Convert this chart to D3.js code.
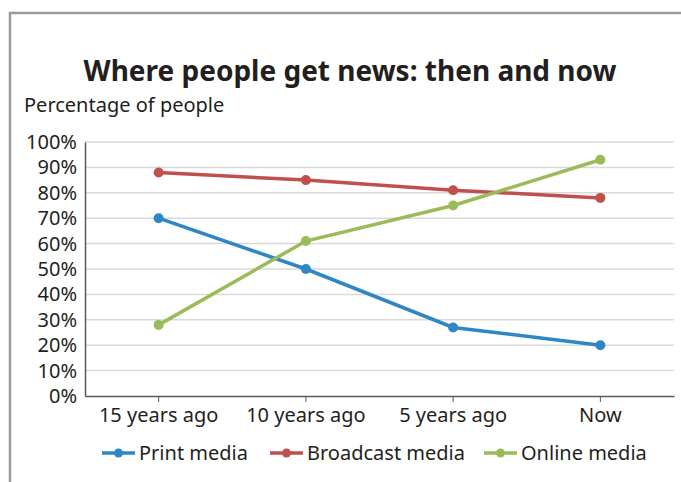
<!DOCTYPE html>
<html lang="en">
  <head>
    <meta charset="utf-8">
    <title>Where people get news</title>
    <script src="https://cdn.jsdelivr.net/npm/d3@7"></script>
    <style>
      body { margin: 0; background: #fff; }
      text { font-family: "Noto Sans", "Open Sans", sans-serif; fill: #231f20; }
      .axis path, .axis line { stroke: #595959; }
      .grid line { stroke: #d9d9d9; stroke-width: 1.5; }
    </style>
  </head>
  <body>
    <script>
    //Data
    var categories = ["15 years ago", "10 years ago", "5 years ago", "Now"];
    var seriesNames = ["Print media", "Broadcast media", "Online media"];
    var printValues = [70, 50, 27, 20];
    var broadcastValues = [88, 85, 81, 78];
    var onlineValues = [28, 61, 75, 93];
    var yTicks = [0, 10, 20, 30, 40, 50, 60, 70, 80, 90, 100];
    var colors = ["#2e86c4", "#c0504d", "#9bbb59"];

    var series = [printValues, broadcastValues, onlineValues].map(function(v, i) {
      return { name: seriesNames[i], values: v, color: colors[i] };
    });

    var w = 681, h = 482;
    var plotLeft = 85, plotRight = 674, plotTop = 142, plotBottom = 396;

    var svg = d3.select("body").append("svg")
      .attr("width", w).attr("height", h);

    //Frame
    svg.append("path")
      .attr("d", "M10," + h + "V13H" + w)
      .attr("fill", "none")
      .attr("stroke", "#9a9a9a")
      .attr("stroke-width", 2.5);

    //Scales
    var xScale = d3.scaleBand().domain(categories).range([plotLeft, plotRight]);
    var yScale = d3.scaleLinear().domain([0, 100]).range([plotBottom, plotTop]);
    var xPos = function(c) { return xScale(c) + xScale.bandwidth() / 2; };

    //Gridlines
    svg.append("g").attr("class", "grid")
      .selectAll("line").data(yTicks.slice(1)).enter().append("line")
      .attr("x1", plotLeft).attr("x2", plotRight)
      .attr("y1", function(d) { return yScale(d); })
      .attr("y2", function(d) { return yScale(d); });

    //Y axis
    var yAxis = svg.append("g").attr("class", "axis")
      .attr("transform", "translate(" + plotLeft + ",0)")
      .call(d3.axisLeft(yScale).tickValues(yTicks).tickSize(0).tickPadding(8)
        .tickFormat(function(d) { return d + "%"; }));
    yAxis.selectAll("text").style("font-size", "20px");
    yAxis.select(".domain").attr("stroke-width", 1.5);

    //X axis
    var xAxis = svg.append("g").attr("class", "axis")
      .attr("transform", "translate(0," + plotBottom + ")")
      .call(d3.axisBottom(xScale).tickSize(6).tickSizeOuter(0).tickPadding(6));
    xAxis.selectAll("text").style("font-size", "20px");
    xAxis.select(".domain").attr("stroke-width", 1.5);

    //Lines
    var line = d3.line()
      .x(function(d, i) { return xPos(categories[i]); })
      .y(function(d) { return yScale(d); });

    var groups = svg.selectAll(".series").data(series).enter().append("g");
    groups.append("path")
      .attr("d", function(d) { return line(d.values); })
      .attr("fill", "none")
      .attr("stroke", function(d) { return d.color; })
      .attr("stroke-width", 3.5);
    groups.selectAll("circle")
      .data(function(d) { return d.values.map(function(v, i) { return { v: v, c: categories[i], color: d.color }; }); })
      .enter().append("circle")
      .attr("cx", function(d) { return xPos(d.c); })
      .attr("cy", function(d) { return yScale(d.v); })
      .attr("r", 5)
      .attr("fill", function(d) { return d.color; });

    //Title
    svg.append("text")
      .attr("x", 350).attr("y", 81)
      .attr("text-anchor", "middle")
      .style("font-size", "28px").style("font-weight", "bold")
      .text("Where people get news: then and now");

    svg.append("text")
      .attr("x", 24).attr("y", 112)
      .style("font-size", "20px")
      .text("Percentage of people");

    //Legend
    var legendX = [102, 270, 484];
    var legend = svg.selectAll(".legend").data(series).enter().append("g")
      .attr("transform", function(d, i) { return "translate(" + legendX[i] + ",453)"; });
    legend.append("line")
      .attr("x1", 0).attr("x2", 33)
      .attr("stroke", function(d) { return d.color; })
      .attr("stroke-width", 3.5);
    legend.append("circle")
      .attr("cx", 16.5).attr("r", 4.5)
      .attr("fill", function(d) { return d.color; });
    legend.append("text")
      .attr("x", 37).attr("dy", "0.35em")
      .style("font-size", "20px")
      .text(function(d) { return d.name; });
    </script>
  </body>
</html>
